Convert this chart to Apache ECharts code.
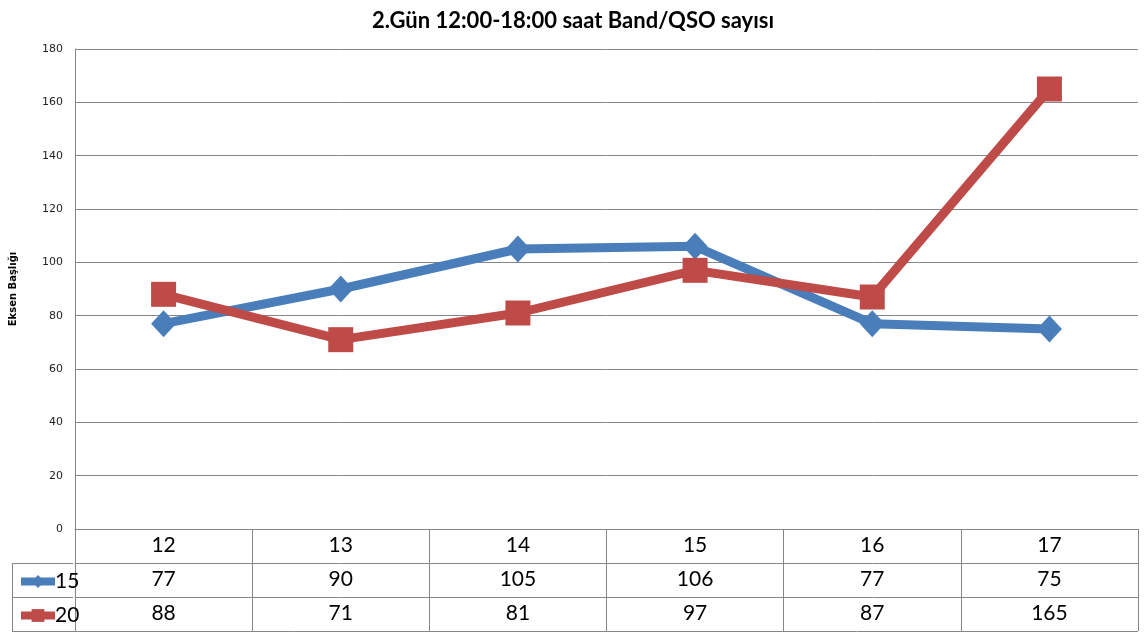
<!DOCTYPE html>
<html>
<head>
<meta charset="utf-8">
<script src="https://cdn.jsdelivr.net/npm/echarts@6/dist/echarts.min.js"></script>
<style>
html,body{margin:0;padding:0;background:#fff;}
#chart{width:1146px;height:632px;}
</style>
</head>
<body>
<div id="chart"></div>
<script>
const titleText = '2.Gün 12:00-18:00 saat Band/QSO sayısı';
const yAxisTitle = 'Eksen Başlığı';
const categories = ['12', '13', '14', '15', '16', '17'];
const seriesNames = ['15', '20'];
const values15 = [77, 90, 105, 106, 77, 75];
const values20 = [88, 71, 81, 97, 87, 165];
const yTicks = { min: 0, max: 180, interval: 20 };

const BLUE = '#4A7EBB';
const RED = '#BE4B48';
const GRIDC = '#868686';
const TABLE_FONT = 'Lato, "Open Sans", sans-serif';

const chart = echarts.init(document.getElementById('chart'), null, { renderer: 'canvas' });

const gridLeft = 73, gridRight = 1138, gridTop = 49, gridBottom = 529, rowH = 34;

function tableAxis(data, offset) {
  return {
    type: 'category',
    position: 'bottom',
    offset: offset,
    data: data,
    boundaryGap: true,
    axisLine: { show: true, lineStyle: { color: GRIDC, width: 1 } },
    axisTick: { show: true, interval: 0, length: rowH, lineStyle: { color: GRIDC, width: 1 } },
    axisLabel: { interval: 0, margin: 6, fontSize: 21, color: '#000', fontFamily: TABLE_FONT },
    splitLine: { show: false }
  };
}

function legendRow(name, rowIndex) {
  return {
    orient: 'horizontal',
    left: 12,
    top: gridBottom + rowH * rowIndex + 3,
    itemWidth: 34,
    itemHeight: 16,
    itemGap: 0,
    data: [name],
    lineStyle: { width: 8 },
    textStyle: { fontSize: 21, color: '#000', fontFamily: TABLE_FONT, padding: [0, 0, 0, -5] }
  };
}

const option = {
  animation: false,
  backgroundColor: '#fff',
  title: {
    text: titleText,
    left: 'center',
    top: 5,
    textStyle: { fontSize: 22, fontWeight: 'bold', color: '#000', fontFamily: TABLE_FONT }
  },
  legend: [legendRow(seriesNames[0], 1), legendRow(seriesNames[1], 2)],
  grid: { left: gridLeft, right: 1146 - gridRight, top: gridTop, bottom: 632 - gridBottom, containLabel: false },
  xAxis: [
    tableAxis(categories, 0),
    tableAxis(values15.map(String), rowH),
    tableAxis(values20.map(String), rowH * 2)
  ],
  yAxis: {
    type: 'value',
    min: yTicks.min,
    max: yTicks.max,
    interval: yTicks.interval,
    name: yAxisTitle,
    nameLocation: 'middle',
    nameGap: 57,
    nameRotate: 90,
    nameTextStyle: { fontSize: 10, fontWeight: 'bold', color: '#000', fontFamily: 'DejaVu Sans, sans-serif' },
    axisLine: { show: true, lineStyle: { color: GRIDC } },
    axisTick: { show: false },
    axisLabel: { margin: 12, fontSize: 11, color: '#222', fontFamily: 'DejaVu Sans, sans-serif' },
    splitLine: { show: true, lineStyle: { color: GRIDC, width: 1 } }
  },
  series: [
    {
      name: seriesNames[0],
      type: 'line',
      data: values15,
      xAxisIndex: 0,
      symbol: 'diamond',
      symbolSize: [25, 27],
      color: BLUE,
      lineStyle: { width: 9, color: BLUE },
      itemStyle: { color: BLUE }
    },
    {
      name: seriesNames[1],
      type: 'line',
      data: values20,
      xAxisIndex: 0,
      symbol: 'rect',
      symbolSize: 25,
      color: RED,
      lineStyle: { width: 9, color: RED },
      itemStyle: { color: RED }
    }
  ],
  graphic: [
    { type: 'line', shape: { x1: 12, y1: gridBottom + rowH + 0.5, x2: gridLeft, y2: gridBottom + rowH + 0.5 }, style: { stroke: GRIDC, lineWidth: 1 } },
    { type: 'line', shape: { x1: 12, y1: gridBottom + rowH * 2 + 0.5, x2: gridLeft, y2: gridBottom + rowH * 2 + 0.5 }, style: { stroke: GRIDC, lineWidth: 1 } },
    { type: 'line', shape: { x1: 12, y1: gridBottom + rowH * 3 + 0.5, x2: gridRight, y2: gridBottom + rowH * 3 + 0.5 }, style: { stroke: GRIDC, lineWidth: 1 } },
    { type: 'line', shape: { x1: 12.5, y1: gridBottom + rowH, x2: 12.5, y2: gridBottom + rowH * 3 + 1 }, style: { stroke: GRIDC, lineWidth: 1 } }
  ]
};

chart.setOption(option);
</script>
</body>
</html>
